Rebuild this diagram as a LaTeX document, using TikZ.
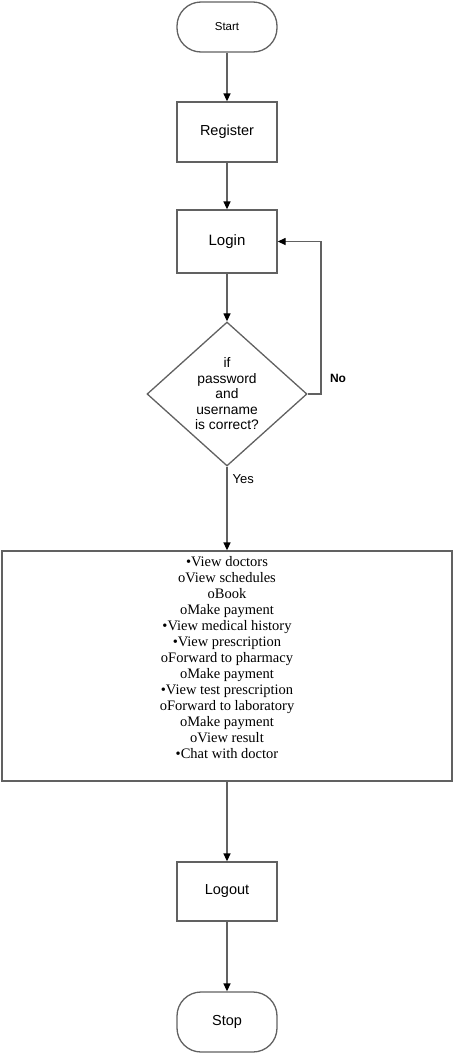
\documentclass[tikz,border=0pt]{standalone}
\usepackage{fontspec}
\setmainfont{Liberation Sans}
\newfontfamily\serifface{Liberation Serif}
\usetikzlibrary{arrows.meta,shapes.geometric}
\begin{document}
\begin{tikzpicture}[x=1pt,y=-1pt,
  line/.style={draw=black!62,line width=1.3pt},
  flow/.style={line,-{Triangle[length=8pt,width=7pt,color=black]}},
  terminal/.style={line,rectangle,rounded corners=24pt,minimum width=100pt,inner sep=0pt},
  process/.style={line,rectangle,minimum width=100pt,inner sep=0pt},
  lbl/.style={font=\fontsize{14.5}{17}\selectfont,align=center}]
\useasboundingbox (0,0) rectangle (455,1055);

% terminals and process steps
\node[terminal,minimum height=50pt,font=\fontsize{11.5}{13}\selectfont] (start) at (227,27) {Start};
\node[process,minimum height=60pt,lbl] (register) at (227,132) {Register};
\node[process,minimum height=63pt,font=\fontsize{15}{17}\selectfont] (login) at (227,241.5) {Login};
\node[line,draw,shape=diamond,minimum width=160pt,minimum height=144pt,inner sep=0pt,aspect=1.11] (check) at (227,394) {};
\node[align=center,font=\fontsize{13.8}{15.5}\selectfont] (checktext) at (227,394) {if\\password\\and\\username\\is correct?};

% menu of patient actions
\node[process,minimum width=450pt,minimum height=230pt] (menu) at (227,666) {};
\node[anchor=north,align=center,font=\serifface\fontsize{14.5}{16}\selectfont] (items) at (227,553)
  {•View doctors\\oView schedules\\oBook\\oMake payment\\•View medical history\\•View prescription\\oForward to pharmacy\\oMake payment\\•View test prescription\\oForward to laboratory\\oMake payment\\oView result\\•Chat with doctor};

\node[process,minimum height=59pt,lbl] (logout) at (227,891.5) {Logout};
\node[terminal,minimum height=60pt,lbl] (stop) at (227,1022) {Stop};

% connectors
\draw[flow] (start) -- (register);
\draw[flow] (register) -- (login);
\draw[flow] (login) -- (check);
\coordinate (loop) at (321,394);
\draw[flow] (check.east) -- (loop) |- (login.east);
\node[font=\bfseries\fontsize{12}{14}\selectfont] (no) at (338,378) {No};
\draw[flow] (check.south) -- (menu.north);
\node[anchor=west,font=\fontsize{13}{15}\selectfont] (yes) at (229,479) {Yes};
\draw[flow] (menu) -- (logout);
\draw[flow] (logout) -- (stop);
\end{tikzpicture}
\end{document}
